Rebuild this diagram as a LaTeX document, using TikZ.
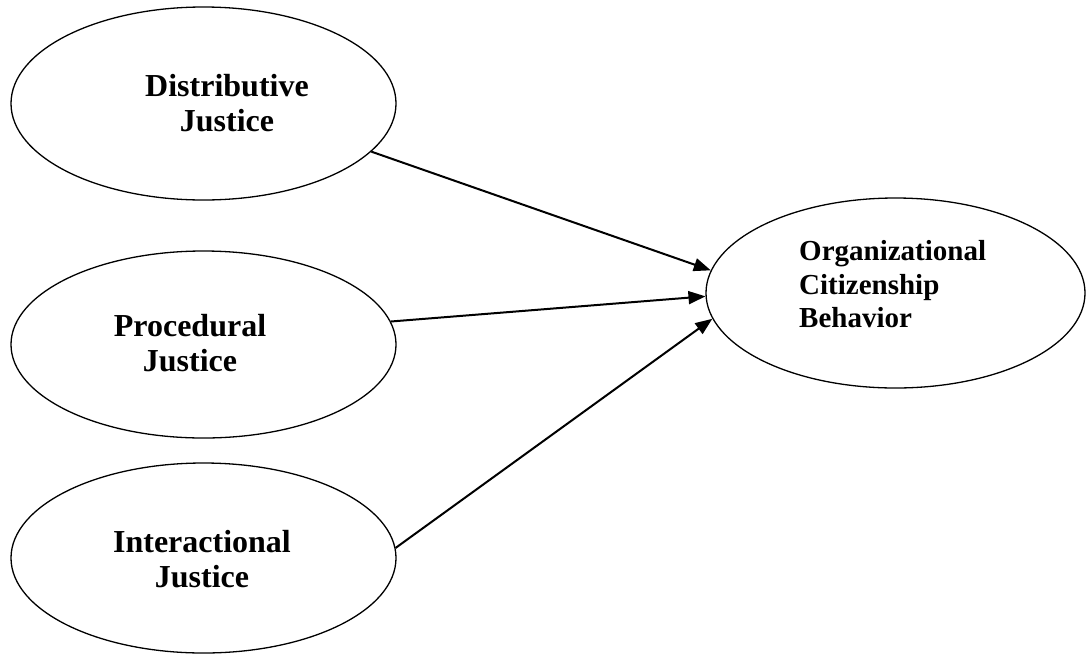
\documentclass[tikz,border=0pt]{standalone}
\usepackage{fontspec}
\setmainfont{Liberation Serif}
\usetikzlibrary{arrows.meta,shapes.geometric}
\tikzset{
  ell/.style={draw,ellipse,line width=1.3pt,inner sep=0pt,minimum width=385pt},
  lbl/.style={align=center,inner sep=0pt,font=\fontsize{32}{35}\selectfont\bfseries},
  ar/.style={-{Triangle[length=17pt,width=13pt]},line width=2pt},
}
\begin{document}
\begin{tikzpicture}[x=1pt,y=-1pt]
\useasboundingbox (0,0) rectangle (1086,654);
% ellipses
\node[ell,minimum height=193pt] (dj) at (203.5,103.5) {};
\node[ell,minimum height=187pt] (pj) at (203.5,344.5) {};
\node[ell,minimum height=190pt] (ij) at (203.5,558) {};
\node[ell,minimum width=379pt,minimum height=190pt] (ocb) at (895.5,293) {};
% labels
\node[lbl] (djt) at (227,103) {Distributive\\Justice};
\node[lbl] (pjt) at (190,343.5) {Procedural\\Justice};
\node[lbl] (ijt) at (202,559) {Interactional\\Justice};
\node[lbl,align=left,anchor=west,font=\fontsize{29}{33.5}\selectfont\bfseries] (ocbt) at (799,284.5) {Organizational\\Citizenship\\Behavior};
% paths
\draw[ar] (dj.-16) -- (ocb.173.7);
\draw[ar] (pj.7.3) -- (ocb.181);
\draw[ar] (ij.3.9) -- (ocb.188.1);
\end{tikzpicture}
\end{document}
